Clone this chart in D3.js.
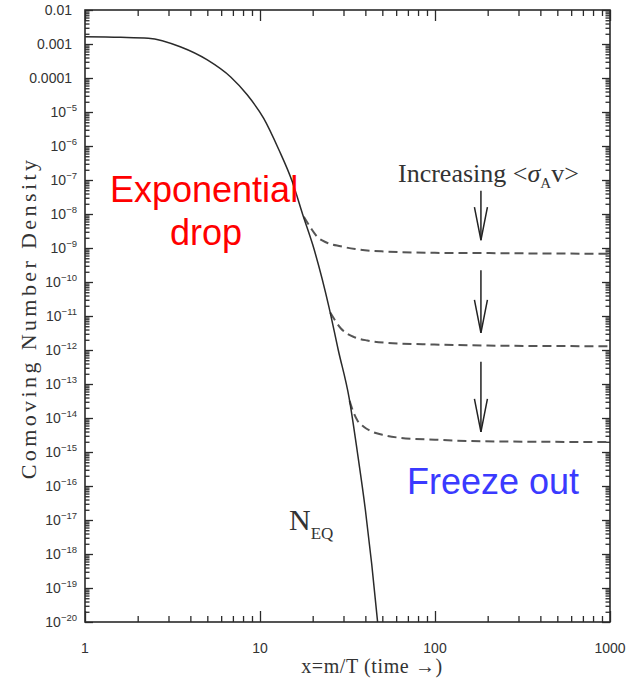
<!DOCTYPE html>
<html>
<head>
<meta charset="utf-8">
<script src="https://cdn.jsdelivr.net/npm/d3@7"></script>
<style>
  body { margin: 0; background: #fff; }
  svg { display: block; }
</style>
</head>
<body>
<svg id="chart" width="637" height="686"></svg>
<script>
// Axis ticks
const xMajorTicks = [1, 10, 100, 1000];
const xTickLabels = ["1", "10", "100", "1000"];
const yMajorTicks = [1e-2, 1e-3, 1e-4, 1e-5, 1e-6, 1e-7, 1e-8, 1e-9, 1e-10, 1e-11,
                     1e-12, 1e-13, 1e-14, 1e-15, 1e-16, 1e-17, 1e-18, 1e-19, 1e-20];
const yTickLabels = ["0.01", "0.001", "0.0001", "10^-5", "10^-6", "10^-7", "10^-8", "10^-9",
                     "10^-10", "10^-11", "10^-12", "10^-13", "10^-14", "10^-15", "10^-16",
                     "10^-17", "10^-18", "10^-19", "10^-20"];

// Equilibrium abundance N_EQ(x)
const eqX = [1, 1.6, 2.3, 3.5, 5, 6.8, 8.45, 10.5, 12.8, 15.3, 17.5, 20, 24.8, 28, 32.3, 36, 40, 43.5, 47];
const eqY = [1.64e-3, 1.58e-3, 1.48e-3, 8.3e-4, 3.4e-4, 1.07e-4, 3.2e-5, 6.5e-6, 7.9e-7, 8.9e-8,
             1.0e-8, 1.26e-9, 1.8e-11, 1.0e-12, 3.9e-14, 1.0e-15, 2.0e-17, 5.0e-19, 1e-20];

// Freeze-out tracks for three annihilation cross sections
const fo1X = [17.8, 19.5, 21.3, 24, 28.9, 35, 51, 100, 183, 400, 1000];
const fo1Y = [8.3e-9, 3.9e-9, 2.1e-9, 1.45e-9, 1.12e-9, 9.3e-10, 7.9e-10, 7.2e-10, 7.1e-10, 6.9e-10, 6.8e-10];
const fo2X = [25.2, 27, 29, 31, 34.5, 41, 54, 99, 200, 1000];
const fo2Y = [1.26e-11, 7.1e-12, 4.3e-12, 3.2e-12, 2.4e-12, 1.9e-12, 1.62e-12, 1.45e-12, 1.35e-12, 1.29e-12];
const fo3X = [32.5, 34, 36.1, 39, 43, 50, 64, 100, 154, 400, 1000];
const fo3Y = [3.2e-14, 1.6e-14, 8.3e-15, 5.6e-15, 4.1e-15, 3.2e-15, 2.6e-15, 2.3e-15, 2.1e-15, 2.0e-15, 1.95e-15];

// "Increasing <σv>" arrows: x position and vertical extent of each
const arrowX = 183;
const arrowTop = [4.8e-8, 2.2e-10, 4.5e-13];
const arrowBottom = [1.7e-9, 3.2e-12, 3.9e-15];

const svg = d3.select("#chart");
const L = 85, R = 610, T = 10, B = 622;

const x = d3.scaleLog().domain([1, 1000]).range([L, R]);
const y = d3.scaleLog().domain([1e-20, 1e-2]).range([B, T]);

const ink = "#2a2a2a";

// minor ticks (2..9 in each decade)
const xMinor = [];
[1, 10, 100].forEach(d => { for (let k = 2; k <= 9; k++) xMinor.push(d * k); });
const yMinor = [];
yMajorTicks.slice(1).forEach(d => { for (let k = 2; k <= 9; k++) yMinor.push(d * k); });

function drawAxis(axisFn, scale, values, size, tx, ty) {
  const g = svg.append("g").attr("transform", `translate(${tx},${ty})`)
    .call(axisFn(scale).tickValues(values).tickSize(size).tickFormat(""));
  g.select(".domain").remove();
  g.selectAll(".tick line").attr("stroke", ink).attr("stroke-width", 1.3);
  return g;
}
// bottom and top
drawAxis(d3.axisBottom, x, xMajorTicks, -11, 0, B);
drawAxis(d3.axisBottom, x, xMinor, -6, 0, B);
drawAxis(d3.axisTop, x, xMajorTicks, -11, 0, T);
drawAxis(d3.axisTop, x, xMinor, -6, 0, T);
// left and right
drawAxis(d3.axisLeft, y, yMajorTicks, -8, L, 0);
drawAxis(d3.axisLeft, y, yMinor, -4.5, L, 0);
drawAxis(d3.axisRight, y, yMajorTicks, -8, R, 0);
drawAxis(d3.axisRight, y, yMinor, -4.5, R, 0);

// frame
svg.append("rect").attr("x", L).attr("y", T).attr("width", R - L).attr("height", B - T)
  .attr("fill", "none").attr("stroke", ink).attr("stroke-width", 1.6);

// tick labels
svg.append("g").selectAll("text").data(xMajorTicks).join("text")
  .attr("x", d => x(d)).attr("y", 653)
  .attr("text-anchor", "middle")
  .attr("font-family", "Liberation Sans, Arial, sans-serif")
  .attr("font-size", 14).attr("fill", "#333")
  .text((d, i) => xTickLabels[i]);

const yl = svg.append("g").selectAll("text").data(yMajorTicks).join("text")
  .attr("y", d => y(d) + 5)
  .attr("text-anchor", "end")
  .attr("font-family", "Liberation Sans, Arial, sans-serif")
  .attr("font-size", 14).attr("fill", "#333");
yl.each(function (d, i) {
  const t = d3.select(this);
  const lab = yTickLabels[i];
  if (lab.includes("^")) {
    const [base, sup] = lab.split("^");
    t.attr("x", 77);
    t.append("tspan").text(base);
    t.append("tspan").attr("font-size", 9.5).attr("dy", -6).text(sup.replace("-", "\u2212"));
  } else {
    t.attr("x", 72).text(lab);
  }
});

// axis titles
svg.append("text")
  .attr("transform", "translate(36,318) rotate(-90)")
  .attr("text-anchor", "middle")
  .attr("font-family", "Liberation Serif, Times New Roman, serif")
  .attr("font-size", 22).attr("letter-spacing", 3.4).attr("fill", "#333")
  .text("Comoving Number Density");

svg.append("text")
  .attr("x", 372).attr("y", 673)
  .attr("text-anchor", "middle")
  .attr("font-family", "Liberation Serif, Times New Roman, serif")
  .attr("font-size", 20).attr("letter-spacing", 0.6).attr("fill", "#333")
  .text("x=m/T (time \u2192)");

// curves
const plot = svg.append("g");
svg.append("clipPath").attr("id", "clip").append("rect")
  .attr("x", L).attr("y", T).attr("width", R - L).attr("height", B - T);
plot.attr("clip-path", "url(#clip)");

const line = d3.line().x(d => x(d[0])).y(d => y(d[1])).curve(d3.curveMonotoneX);

[[fo1X, fo1Y], [fo2X, fo2Y], [fo3X, fo3Y]].forEach(([xs, ys]) => {
  plot.append("path")
    .attr("d", line(d3.zip(xs, ys)))
    .attr("fill", "none").attr("stroke", "#555").attr("stroke-width", 2)
    .attr("stroke-dasharray", "9,5");
});

plot.append("path")
  .attr("d", line(d3.zip(eqX, eqY)))
  .attr("fill", "none").attr("stroke", ink).attr("stroke-width", 1.5);

// arrows
arrowTop.forEach((top, i) => {
  const ax = x(arrowX), y0 = y(top), y1 = y(arrowBottom[i]);
  const g = svg.append("g").attr("stroke", "#222").attr("stroke-width", 1.5).attr("fill", "none");
  g.append("line").attr("x1", ax).attr("x2", ax).attr("y1", y0).attr("y2", y1);
  g.append("path").attr("d", `M${ax - 6.5},${y1 - 33} L${ax},${y1} L${ax + 6.5},${y1 - 33}`);
});

// annotation texts
const inc = svg.append("text")
  .attr("x", 398).attr("y", 182)
  .attr("font-family", "Liberation Serif, Times New Roman, serif")
  .attr("font-size", 26).attr("fill", "#333");
inc.append("tspan").text("Increasing <");
inc.append("tspan").attr("font-style", "italic").text("\u03c3");
inc.append("tspan").attr("font-size", 15).attr("dy", 6).text("A");
inc.append("tspan").attr("dy", -6).text("v>");

const neq = svg.append("text")
  .attr("x", 289).attr("y", 530)
  .attr("font-family", "Liberation Serif, Times New Roman, serif")
  .attr("font-size", 30).attr("fill", "#333");
neq.append("tspan").text("N");
neq.append("tspan").attr("font-size", 17).attr("dy", 9).text("EQ");

svg.append("text")
  .attr("x", 110).attr("y", 202)
  .attr("font-family", "Liberation Sans, Arial, sans-serif")
  .attr("font-size", 36).attr("fill", "#ff0000")
  .text("Exponential");
svg.append("text")
  .attr("x", 206).attr("y", 245).attr("text-anchor", "middle")
  .attr("font-family", "Liberation Sans, Arial, sans-serif")
  .attr("font-size", 36).attr("fill", "#ff0000")
  .text("drop");

svg.append("text")
  .attr("x", 407).attr("y", 494)
  .attr("font-family", "Liberation Sans, Arial, sans-serif")
  .attr("font-size", 36).attr("fill", "#3a3aff")
  .text("Freeze out");
</script>
</body>
</html>
